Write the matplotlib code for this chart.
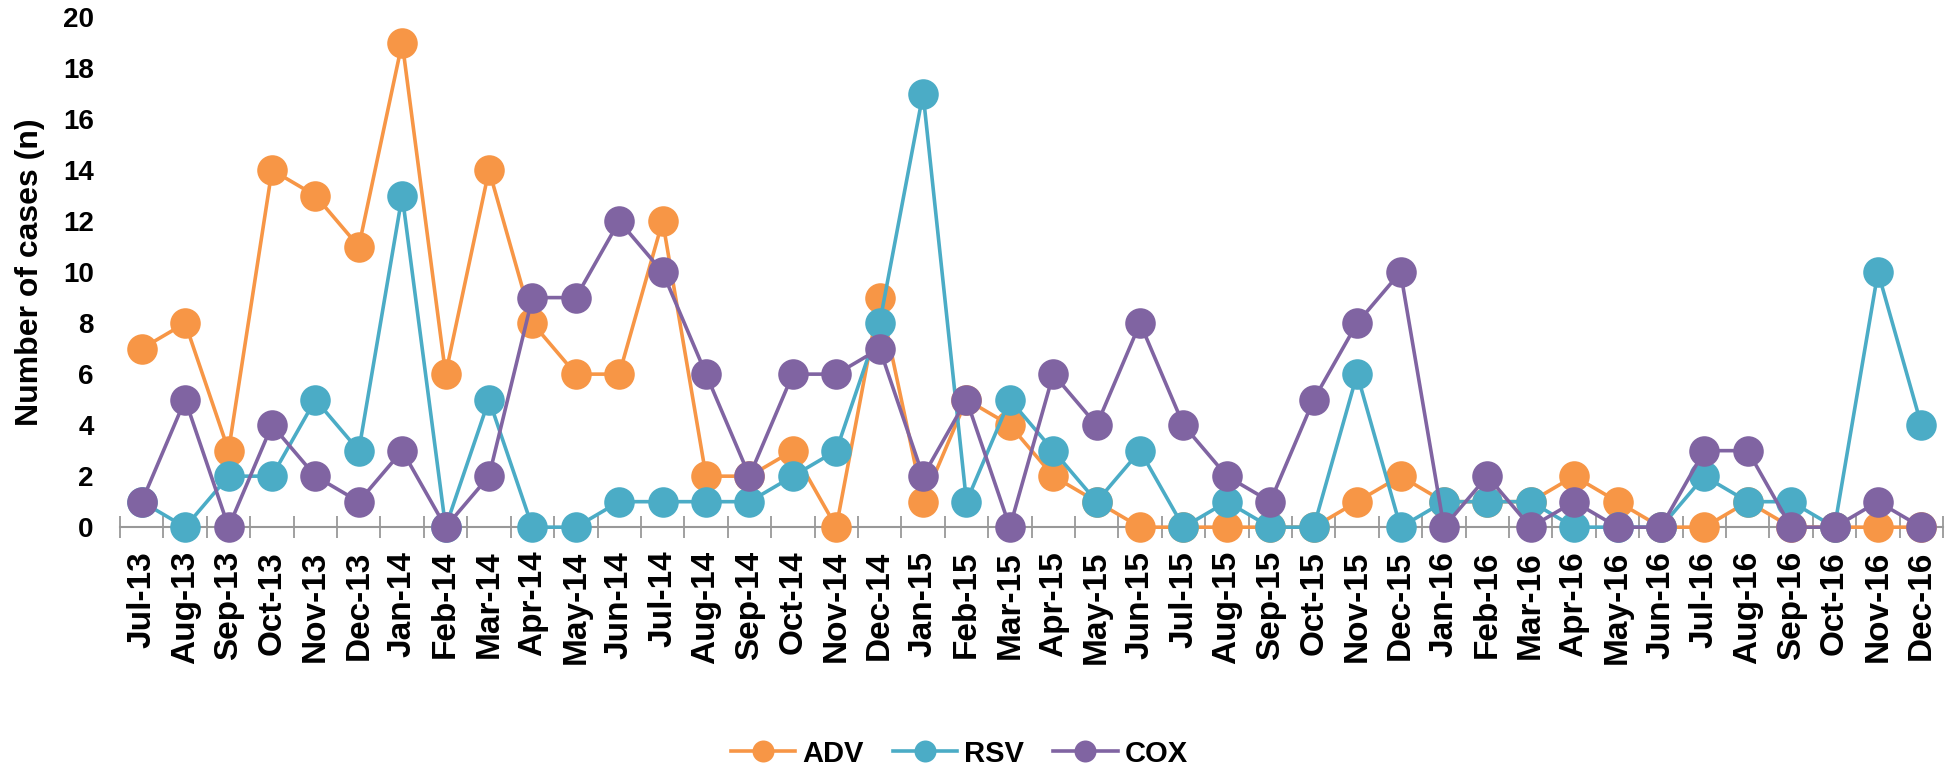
import matplotlib.pyplot as plt

plt.rcParams['font.family'] = ['Liberation Sans', 'DejaVu Sans']
plt.rcParams['font.weight'] = 'bold'

months = ['Jul-13', 'Aug-13', 'Sep-13', 'Oct-13', 'Nov-13', 'Dec-13',
          'Jan-14', 'Feb-14', 'Mar-14', 'Apr-14', 'May-14', 'Jun-14',
          'Jul-14', 'Aug-14', 'Sep-14', 'Oct-14', 'Nov-14', 'Dec-14',
          'Jan-15', 'Feb-15', 'Mar-15', 'Apr-15', 'May-15', 'Jun-15',
          'Jul-15', 'Aug-15', 'Sep-15', 'Oct-15', 'Nov-15', 'Dec-15',
          'Jan-16', 'Feb-16', 'Mar-16', 'Apr-16', 'May-16', 'Jun-16',
          'Jul-16', 'Aug-16', 'Sep-16', 'Oct-16', 'Nov-16', 'Dec-16']

adv = [7, 8, 3, 14, 13, 11, 19, 6, 14, 8, 6, 6, 12, 2, 2, 3, 0, 9, 1, 5, 4,
       2, 1, 0, 0, 0, 0, 0, 1, 2, 1, 1, 1, 2, 1, 0, 0, 1, 0, 0, 0, 0]
rsv = [1, 0, 2, 2, 5, 3, 13, 0, 5, 0, 0, 1, 1, 1, 1, 2, 3, 8, 17, 1, 5,
       3, 1, 3, 0, 1, 0, 0, 6, 0, 1, 1, 1, 0, 0, 0, 2, 1, 1, 0, 10, 4]
cox = [1, 5, 0, 4, 2, 1, 3, 0, 2, 9, 9, 12, 10, 6, 2, 6, 6, 7, 2, 5, 0,
       6, 4, 8, 4, 2, 1, 5, 8, 10, 0, 2, 0, 1, 0, 0, 3, 3, 0, 0, 1, 0]

series = [('ADV', adv, '#F79646'), ('RSV', rsv, '#4BACC6'), ('COX', cox, '#8064A2')]

fig = plt.figure(figsize=(19.46, 7.73), dpi=100)
ax = fig.add_axes([0.0617, 0.318, 0.9368, 0.660])

x = list(range(len(months)))
for name, vals, col in series:
    ax.plot(x, vals, color=col, lw=2.6, marker='o', markersize=22,
            markeredgewidth=0, label=name, clip_on=False, zorder=3)

ax.set_xlim(-0.5, len(months) - 0.5)
ax.set_ylim(0, 20)
ax.set_yticks(range(0, 21, 2))
ax.set_xticks(x)
ax.set_xticklabels(months, rotation=90, fontsize=24, fontweight='bold')
ax.set_xticks([i - 0.5 for i in range(len(months) + 1)], minor=True)
ax.tick_params(axis='x', which='major', length=0, pad=17)
ax.tick_params(axis='x', which='minor', direction='inout', length=16,
               width=1.3, color='#999999')
ax.tick_params(axis='y', length=0, pad=19, labelsize=20)
for lab in ax.get_yticklabels():
    lab.set_fontweight('bold')

for s in ['top', 'right', 'left']:
    ax.spines[s].set_visible(False)
ax.spines['bottom'].set_color('#999999')
ax.spines['bottom'].set_linewidth(1.5)

ax.set_ylabel('Number of cases (n)', fontsize=23, fontweight='bold', labelpad=13)

fig.legend(loc='center', bbox_to_anchor=(0.493, 0.025), ncol=3, frameon=False,
           fontsize=21, handlelength=2.2, handletextpad=0.25, columnspacing=1.0,
           markerscale=0.72)

fig.savefig('out.png', dpi=100)
